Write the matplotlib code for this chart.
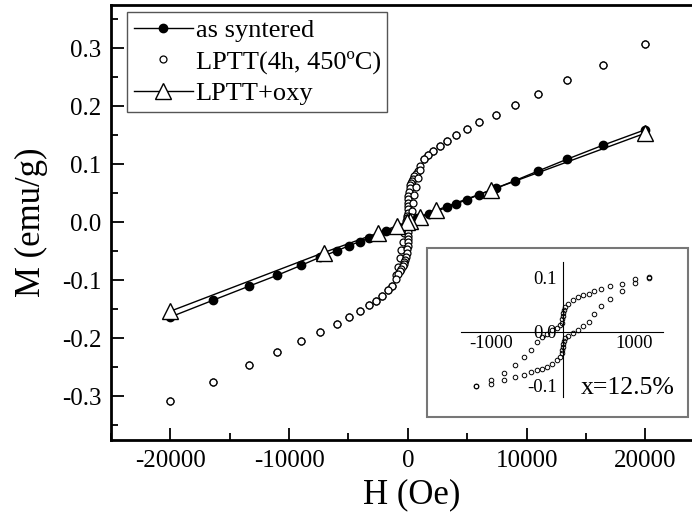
import matplotlib
matplotlib.use('Agg')
import matplotlib.pyplot as plt
from matplotlib.ticker import MultipleLocator, FormatStrFormatter
from matplotlib.patches import Rectangle

plt.rcParams['font.family'] = ['Liberation Serif', 'DejaVu Serif']
plt.rcParams['axes.unicode_minus'] = False

# as syntered
synt_h = [20000, 16400, 13400, 11000, 9000, 7400, 6000, 4950, 4050, 3300, 1800, 800, 0,
          -800, -1800, -3300, -4050, -4950, -6000, -7400, -9000, -11000, -13400, -16400, -20000]
synt_m = [0.160, 0.133, 0.109, 0.089, 0.072, 0.059, 0.048, 0.039, 0.032, 0.026, 0.015, 0.007, 0.000,
          -0.007, -0.015, -0.027, -0.033, -0.040, -0.049, -0.060, -0.074, -0.091, -0.110, -0.134, -0.163]

# LPTT(4h, 450C), descending and ascending branches
lptt_h = [20000, 16400, 13400, 11000, 9000, 7400, 6000, 4950, 4050, 3300, 2700, 2150, 1700, 1350,
          1000, 820, 660, 540, 440, 360, 290, 220, 150, 80, 35, 15, 5, 0, -5, -15, -35, -80,
          -150, -220, -290, -360, -440, -540, -660, -820, -1000,
          -1350, -1700, -2150, -2700, -3300, -4050, -4950, -6000, -7400, -9000, -11000, -13400, -16400, -20000]
lptt_desc = [0.307, 0.272, 0.245, 0.221, 0.202, 0.186, 0.173, 0.161, 0.150, 0.141, 0.132, 0.123, 0.116, 0.109,
             0.097, 0.089, 0.084, 0.080, 0.075, 0.071, 0.068, 0.065, 0.059, 0.052, 0.046, 0.040, 0.034, 0.029,
             0.023, 0.017, 0.012, 0.008, 0.003, -0.004, -0.010, -0.019, -0.033, -0.047, -0.061, -0.076, -0.090,
             -0.110, -0.117, -0.126, -0.136, -0.143, -0.152, -0.163, -0.175, -0.189, -0.204, -0.223, -0.246, -0.275, -0.308]
lptt_asc = [0.307, 0.272, 0.245, 0.221, 0.202, 0.186, 0.173, 0.161, 0.150, 0.141, 0.132, 0.123, 0.116, 0.109,
            0.090, 0.076, 0.061, 0.047, 0.033, 0.019, 0.010, 0.004, -0.003, -0.008, -0.012, -0.017, -0.023, -0.029,
            -0.034, -0.040, -0.046, -0.052, -0.059, -0.065, -0.068, -0.071, -0.075, -0.080, -0.084, -0.089, -0.097,
            -0.110, -0.117, -0.126, -0.136, -0.143, -0.152, -0.163, -0.175, -0.189, -0.204, -0.223, -0.246, -0.275, -0.308]

# LPTT+oxy
oxy_h = [20000, 7000, 2400, 1000, 150, -100, -950, -2500, -7100, -20000]
oxy_m = [0.154, 0.056, 0.021, 0.010, 0.003, 0.000, -0.006, -0.018, -0.052, -0.153]

# inset: low field loop, x=12.5%
inset_h = [1200, 1000, 820, 660, 540, 440, 360, 290, 220, 150, 80, 35, 15, 5, 0, -5, -15, -35,
           -80, -150, -220, -290, -360, -440, -540, -660, -820, -1000, -1200]
inset_desc = [0.101, 0.097, 0.089, 0.084, 0.080, 0.075, 0.071, 0.068, 0.065, 0.059, 0.052, 0.046, 0.040,
              0.034, 0.029, 0.023, 0.017, 0.012, 0.008, 0.003, -0.004, -0.010, -0.019, -0.033, -0.047,
              -0.061, -0.076, -0.090, -0.100]
inset_asc = [0.100, 0.090, 0.076, 0.061, 0.047, 0.033, 0.019, 0.010, 0.004, -0.003, -0.008, -0.012, -0.017,
             -0.023, -0.029, -0.034, -0.040, -0.046, -0.052, -0.059, -0.065, -0.068, -0.071, -0.075, -0.080,
             -0.084, -0.089, -0.097, -0.101]

fig = plt.figure(figsize=(6.92, 5.28), dpi=100)
# right spine lies just outside the picture, as in the original
ax = fig.add_axes([0.1604, 0.1667, 0.858, 0.8239])

ax.plot(synt_h, synt_m, '-', color='k', lw=1, marker='o', ms=6, mfc='k', mec='k',
        label='as syntered', zorder=3)
ax.plot(lptt_h, lptt_desc, ls='none', marker='o', ms=5, mfc='white', mec='k', mew=0.9,
        label='LPTT(4h, 450ºC)', zorder=2)
ax.plot(lptt_h, lptt_asc, ls='none', marker='o', ms=5, mfc='white', mec='k', mew=0.9, zorder=2)
ax.plot(oxy_h, oxy_m, '-', color='k', lw=1, marker='^', ms=12, mfc='white', mec='k', mew=1,
        label='LPTT+oxy', zorder=4)

ax.set_xlim(-25000, 25000)
ax.set_ylim(-0.375, 0.375)
ax.xaxis.set_major_locator(MultipleLocator(10000))
ax.xaxis.set_minor_locator(MultipleLocator(5000))
ax.yaxis.set_major_locator(MultipleLocator(0.1))
ax.yaxis.set_minor_locator(MultipleLocator(0.05))
ax.yaxis.set_major_formatter(FormatStrFormatter('%.1f'))
ax.tick_params(which='both', direction='in', top=False, right=False, labelsize=18, width=1.3)
ax.tick_params(which='major', length=9, pad=7)
ax.tick_params(which='minor', length=5)
for s in ax.spines.values():
    s.set_linewidth(2)

ax.set_xlabel('H (Oe)', fontsize=25)
ax.xaxis.set_label_coords(0.507, -0.087)
ax.set_ylabel('M (emu/g)', fontsize=25, labelpad=10)

ax.legend(loc='upper left', bbox_to_anchor=(0.027, 0.984), borderaxespad=0, fontsize=19,
          fancybox=False, edgecolor='#555555', framealpha=1, handlelength=2.25,
          handletextpad=0.1, borderpad=0.25, labelspacing=0.3)

# inset
ins = fig.add_axes([0.617, 0.210, 0.377, 0.320])
ins.set_xlim(-1885, 1740)
ins.set_ylim(-0.158, 0.155)
ins.add_patch(Rectangle((0, 0), 1, 1, transform=ins.transAxes, fill=False,
                        edgecolor='#777777', lw=1.5, clip_on=False, zorder=5))
ins.spines['top'].set_visible(False)
ins.spines['right'].set_visible(False)
ins.spines['left'].set_position(('data', 0))
ins.spines['bottom'].set_position(('data', 0))
ins.spines['left'].set_bounds(-0.121, 0.129)
ins.spines['bottom'].set_bounds(-1417, 1393)
ins.set_xticks([-1000, 1000])
ins.set_yticks([-0.1, 0.0, 0.1])
ins.yaxis.set_major_formatter(FormatStrFormatter('%.1f'))
ins.tick_params(length=0, labelsize=13.5)
ins.tick_params(axis='x', pad=2)
ins.tick_params(axis='y', pad=4)
ins.plot(inset_h, inset_desc, ls='none', marker='o', ms=3.3, mfc='none', mec='k', mew=0.7)
ins.plot(inset_h, inset_asc, ls='none', marker='o', ms=3.3, mfc='none', mec='k', mew=0.7)
ins.text(0.77, 0.17, 'x=12.5%', transform=ins.transAxes, ha='center', va='center', fontsize=18.5)

fig.savefig('out.png', dpi=100)
